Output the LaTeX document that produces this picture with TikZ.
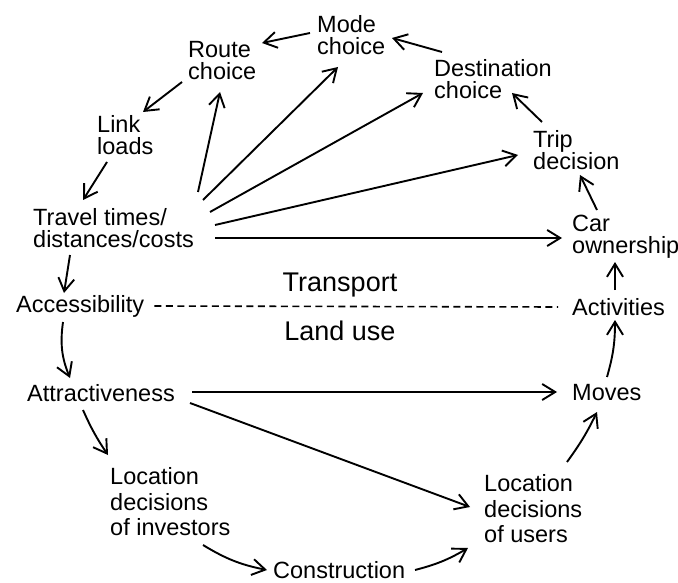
\documentclass[tikz,border=0pt]{standalone}
\usepackage{fontspec}
\setmainfont{Liberation Sans}
\usetikzlibrary{arrows.meta,calc}
\begin{document}
\begin{tikzpicture}[x=1pt,y=-1pt,
  lbl/.style={anchor=west,inner sep=0pt,align=left,font=\fontsize{23.5}{22}\selectfont},
  lbl3/.style={lbl,font=\fontsize{23.5}{25.5}\selectfont},
  big/.style={inner sep=0pt,font=\fontsize{27}{30}\selectfont},
  arr/.style={line width=1.9pt,-{Straight Barb[length=13pt,width=16pt,line width=1.9pt]}},
  divline/.style={line width=1.6pt,dash pattern=on 7pt off 4.5pt}
]
\useasboundingbox[fill=white] (0,0) rectangle (678,583);

% Nodes
\node[lbl] (mode) at (317,35) {Mode\\choice};
\node[lbl] (route) at (188,61) {Route\\choice};
\node[lbl] (dest) at (434,79) {Destination\\choice};
\node[lbl] (link) at (97,135) {Link\\loads};
\node[lbl] (trip) at (533,150) {Trip\\decision};
\node[lbl] (tt) at (33,228) {Travel times/\\distances/costs};
\node[lbl] (car) at (572,237) {Car\\ownership};
\node[lbl] (acc) at (16,306) {Accessibility};
\node[lbl] (act) at (572,307) {Activities};
\node[big] (transport) at (340,285) {Transport};
\node[big] (landuse) at (340,331) {Land use};
\node[lbl] (attr) at (27,393) {Attractiveness};
\node[lbl] (moves) at (572,393) {Moves};
\node[lbl3] (inv) at (110,502) {Location\\decisions\\of investors};
\node[lbl3] (users) at (484,509) {Location\\decisions\\of users};
\node[lbl] (cons) at (273,570) {Construction};

% Dashed boundary
\draw[divline] ($(acc.east)+(10,0)$) -- ($(act.west)+(-14,0)$);

% Transport cycle
\draw[arr] ($(mode.west)+(-7,-2)$) -- ($(route.west)+(74,-18)$);
\draw[arr] ($(dest.west)+(8,-27)$) -- ($(mode.west)+(75,3)$);
\draw[arr] ($(trip.west)+(9,-28)$) -- ($(dest.west)+(78,14)$);
\draw[arr] ($(car.west)+(25,-27)$) -- ($(trip.west)+(47,25)$);
\draw[arr] ($(act.west)+(43,-17)$) -- ($(car.west)+(43,25)$);
\draw[arr] ($(route.west)+(-6,21)$) -- ($(link.west)+(46,-23)$);
\draw[arr] ($(link.west)+(10,27)$) -- ($(tt.west)+(50,-28)$);
\draw[arr] ($(tt.west)+(37,27)$) -- ($(acc.west)+(48,-13)$);

% Fan from travel times
\draw[arr] ($(tt.west)+(165,-36)$) -- ($(route.west)+(32,31)$);
\draw[arr] ($(tt.west)+(170,-28)$) -- ($(mode.west)+(21,32)$);
\draw[arr] ($(tt.west)+(177,-16)$) -- ($(dest.west)+(-11,14)$);
\draw[arr] ($(tt.west)+(182,-3)$) -- ($(trip.west)+(-15,5)$);
\draw[arr] ($(tt.west)+(182,10)$) -- ($(car.west)+(-10,1)$);

% Land use cycle
\draw[arr] ($(acc.west)+(47,16)$) to[bend right=15] ($(attr.west)+(43,-15)$);
\draw[arr] ($(attr.west)+(56,17)$) to[bend right=5] ($(inv.west)+(-2,-47)$);
\draw[arr] ($(inv.west)+(93,43)$) to[bend right=10] ($(cons.west)+(-6,0)$);
\draw[arr] ($(cons.west)+(142,0)$) to[bend right=8] ($(users.west)+(-16,39)$);
\draw[arr] ($(users.west)+(83,-47)$) to[bend right=5] ($(moves.west)+(25,19)$);
\draw[arr] ($(moves.west)+(35,-16)$) to[bend right=8] ($(act.west)+(43,13)$);

\draw[arr] ($(attr.west)+(165,-1)$) -- ($(moves.west)+(-15,-1)$);
\draw[arr] ($(attr.west)+(163,10)$) -- ($(users.west)+(-14,-2)$);
\end{tikzpicture}
\end{document}
